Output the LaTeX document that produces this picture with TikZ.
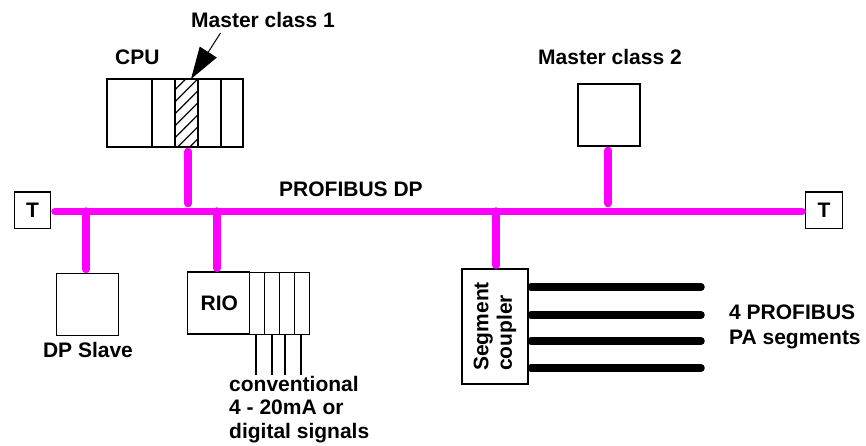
\documentclass[tikz,border=0pt]{standalone}
\usepackage{fontspec}
\setmainfont{Liberation Sans}
\usetikzlibrary{arrows.meta,patterns.meta,positioning}

\definecolor{buscolor}{RGB}{255,0,255}
\tikzset{
 lbl/.style={font=\fontsize{21}{23.5}\selectfont\bfseries,inner sep=0pt,align=left},
 box/.style={draw,line width=1.3pt,inner sep=0pt,outer sep=0pt,lbl,align=center},
 cell/.style={box,minimum height=68pt},
 rcell/.style={box,minimum width=15pt,minimum height=62pt},
 bus/.style={line width=7.5pt,color=buscolor,line cap=round},
 segline/.style={line width=7.5pt,line cap=round},
 sigline/.style={line width=2pt}
}

\begin{document}
\begin{tikzpicture}[x=1pt,y=-1pt]
 \useasboundingbox (0,0) rectangle (866,445);

 % terminators and bus
 \node[box,minimum size=36.5pt,text depth=0pt] (tl) at (32.5,210.3) {T};
 \node[box,minimum size=36.5pt,text depth=0pt] (tr) at (824,210.3) {T};
 \coordinate (bl) at (55,211.5);
 \coordinate (br) at (802,211.5);
 \draw[bus] (bl) -- (br);
 \node[lbl,anchor=base west] (dp) at (279,196) {PROFIBUS DP};

 % CPU rack
 \node[cell,minimum width=45pt] (c1) at (129.5,113) {};
 \node[cell,minimum width=23pt,right=0pt of c1] (c2) {};
 \node[cell,minimum width=23pt,right=0pt of c2,pattern={Lines[angle=45,distance=8.5pt,line width=1.2pt]}] (slot) {};
 \node[cell,minimum width=23pt,right=0pt of slot] (c4) {};
 \node[cell,minimum width=22pt,right=0pt of c4] (c5) {};
 \draw[line width=2pt] (slot.north west) rectangle (slot.south east);
 \node[lbl,anchor=base west] (cpu) at (115,64) {CPU};
 \node[lbl,anchor=base west] (mc1) at (191,27) {Master class 1};
 \coordinate (mc1a) at (220.5,33);
 \coordinate (mc1t) at (191,79);
 \draw[line width=1pt,-{Triangle[length=32pt,width=20pt]}] (mc1a) -- (mc1t);

 % master class 2
 \node[box,minimum size=62pt] (m2) at (609,115) {};
 \node[lbl,anchor=base west] (mc2) at (538,64) {Master class 2};

 % slave and RIO
 \node[box,minimum size=62pt] (slave) at (87.3,304.2) {};
 \node[lbl,anchor=base] (slavetxt) at (88,357) {DP Slave};
 \node[box,minimum size=62pt,text depth=0pt] (rio) at (218.3,303) {\hspace{2pt}RIO};
 \node[rcell,right=0pt of rio,yshift=-0.7pt] (r1) {};
 \node[rcell,right=0pt of r1] (r2) {};
 \node[rcell,right=0pt of r2] (r3) {};
 \node[rcell,right=0pt of r3] (r4) {};
 \node[lbl,anchor=north west] (conv) at (229,376) {conventional\\4 - 20mA or\\digital signals};
 \coordinate (s1) at (255.7,375);
 \coordinate (s2) at (271.5,375);
 \coordinate (s3) at (285,375);
 \coordinate (s4) at (301,375);
 \draw[sigline] (r1.south -| s1) -- (s1);
 \draw[sigline] (r2.south -| s2) -- (s2);
 \draw[sigline] (r3.south -| s3) -- (s3);
 \draw[sigline] (r4.south -| s4) -- (s4);

 % segment coupler
 \node[box,rotate=90,minimum width=115pt,minimum height=66pt,align=left] (seg) at (495,326.5) {Segment\\coupler};
 \coordinate (p1) at (701,287);
 \coordinate (p2) at (701,315);
 \coordinate (p3) at (701,341);
 \coordinate (p4) at (701,368);
 \foreach \n in {p1,p2,p3,p4}
  \draw[segline] (seg.south |- \n) ++(3,0) -- (\n);
 \node[lbl,anchor=north west] (pa) at (729,305) {4 PROFIBUS\\[1.5pt]PA segments};

 % stubs
 \coordinate (b1) at (86,211);
 \coordinate (b2) at (188,211);
 \coordinate (b3) at (217,211);
 \coordinate (b4) at (496,211);
 \coordinate (b5) at (608,211);
 \draw[bus,shorten >=3.75pt] (b1) -- (b1 |- slave.north);
 \draw[bus,shorten >=3.75pt] (b3) -- (b3 |- rio.north);
 \draw[bus,shorten >=3.75pt] (b4) -- (b4 |- seg.east);
 \draw[bus,shorten <=4.5pt,shorten >=7.5pt] (b2 |- slot.south) -- (b2);
 \draw[bus,shorten <=4.5pt,shorten >=7.5pt] (b5 |- m2.south) -- (b5);
\end{tikzpicture}
\end{document}
